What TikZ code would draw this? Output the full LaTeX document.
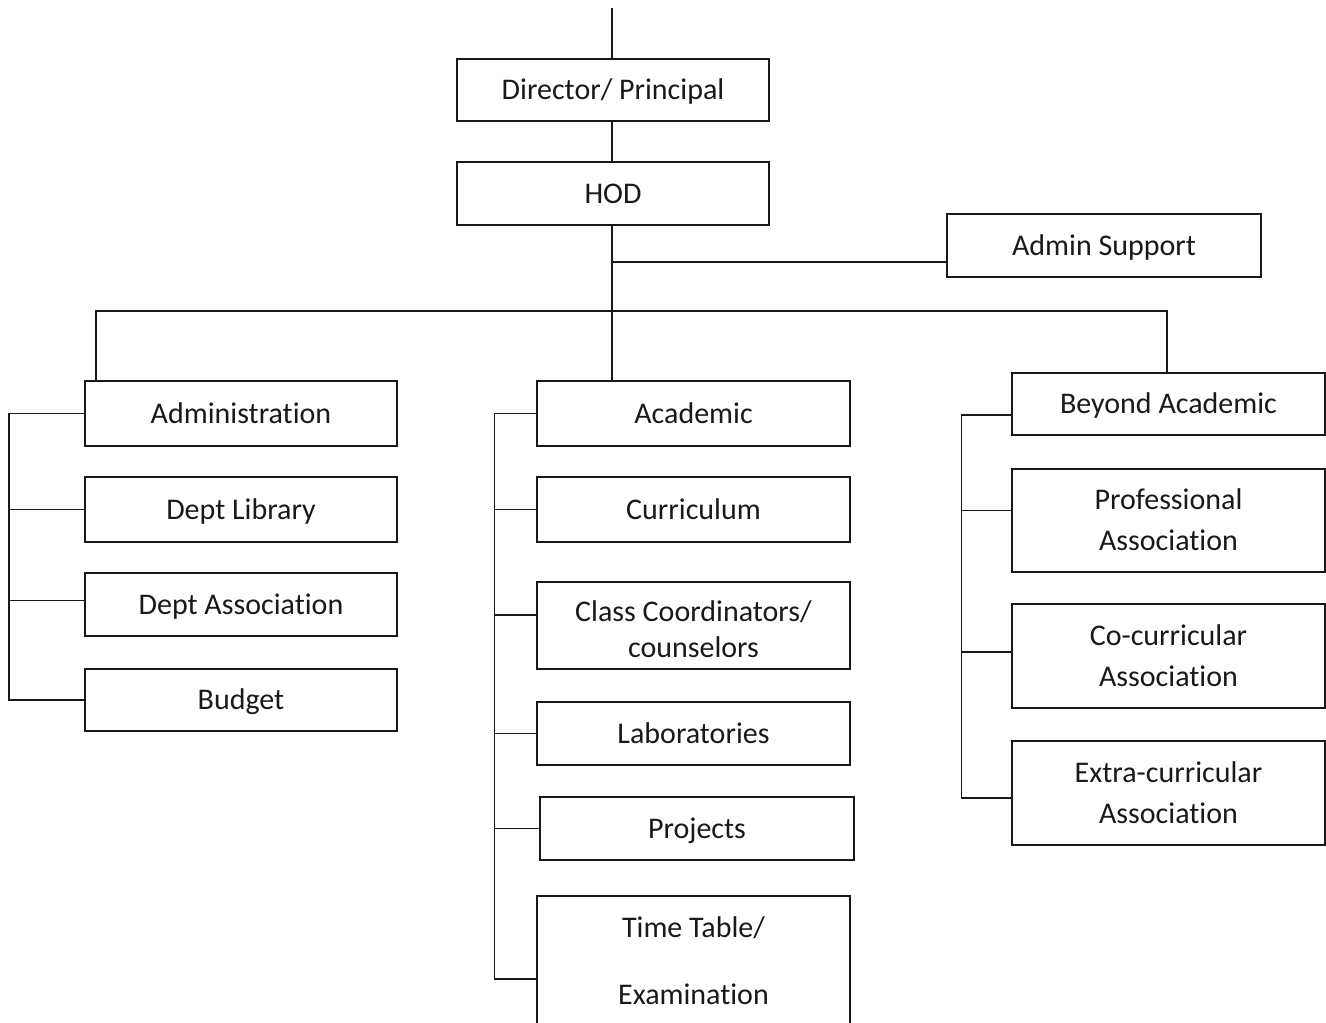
\documentclass[tikz,border=0pt]{standalone}
\usepackage{fontspec}
\setmainfont{Carlito}[Ligatures={NoCommon}]
\usetikzlibrary{calc}
\newcommand{\sT}[1][15.5pt]{\rule{0pt}{#1}}
\newcommand{\sB}{\rule[-1pt]{0pt}{1pt}}
\tikzset{
  boxbase/.style={draw=black!90, line width=1.4pt, inner sep=0pt, align=center,
    text=black!90},
  box/.style={boxbase, font=\fontsize{22.5}{30.75}\selectfont,
    text height=15.5pt, text depth=1pt},
  mbox/.style={boxbase, font=\fontsize{22.5}{30.75}\selectfont},
  conn/.style={draw=black!90, line width=1.4pt},
}
\newcommand{\bx}[7]{% name, cx, cy, w, h, style, text
  \node[#6, minimum width={#4*0.75pt}, minimum height={#5*0.75pt}] (#1) at (#2,#3) {#7};}
\begin{document}
\begin{tikzpicture}[x=0.75pt,y=-0.75pt]
\useasboundingbox (0,0) rectangle (1326,1023);
\clip (0,0) rectangle (1326,1023);
% top
\bx{dir}{613}{90}{312}{62}{box}{Director/ Principal}
\bx{hod}{613}{193.5}{312}{63}{box}{HOD}
\bx{admsup}{1104}{245.5}{314}{63}{box}{Admin Support}
% left
\bx{admin}{241}{413.5}{312}{65}{box}{Administration}
\bx{lib}{241}{509.5}{312}{65}{box}{Dept Library}
\bx{dassoc}{241}{604.5}{312}{63}{box}{Dept Association}
\bx{budget}{241}{700}{312}{62}{box}{Budget}
% middle
\bx{acad}{693.5}{413.5}{313}{65}{box}{Academic}
\bx{curr}{693.5}{509.5}{313}{65}{box}{Curriculum}
\bx{cc}{693.5}{625.5}{313}{87}{mbox,font=\fontsize{22.5}{27}\selectfont}{\sT[22.25pt]Class Coordinators/\\counselors\sB}
\bx{labs}{693.5}{733.5}{313}{63}{box}{Laboratories}
\bx{proj}{697}{828.5}{314}{63}{box}{Projects}
\bx{tt}{693.5}{961.5}{313}{131}{mbox,font=\fontsize{22.5}{50.25}\selectfont}{\sT Time Table/\\Examination\sB}
% right
\bx{beyond}{1168.5}{404}{313}{62}{box}{Beyond Academic}
\bx{prof}{1168.5}{520.5}{313}{103}{mbox}{\sT Professional\\Association\sB}
\bx{cocur}{1168.5}{656}{313}{104}{mbox}{\sT Co-curricular\\Association\sB}
\bx{extra}{1168.5}{793}{313}{104}{mbox}{\sT Extra-curricular\\Association\sB}
% connectors
\coordinate (top) at (612,8);
\draw[conn] (top) -- (top |- dir.north);
\draw[conn] (dir.south -| top) -- (hod.north -| top);
\draw[conn] (hod.south -| top) -- (acad.north -| top);
\coordinate (asj) at (612,262);
\draw[conn] (asj) -- (asj -| admsup.west);
\coordinate (busL) at (96,311);
\coordinate (busR) at (1167,311);
\draw[conn] (busL |- admin.north) -- (busL) -- (busR) -- (busR |- beyond.north);
% left tree
\coordinate (lv) at (9,414);
\draw[conn] (admin.west) -- (admin.west -| lv) |- (budget.west);
\draw[conn] (lib.west) -- (lib.west -| lv);
\draw[conn] ($(dassoc.west)+(0,-4)$) -- ($(dassoc.west -| lv)+(0,-4)$);
% middle tree
\coordinate (mv) at (494.5,414);
\coordinate (ttj) at ($(tt.west)+(0,17.5)$);
\draw[conn] (acad.west) -- (acad.west -| mv) |- (ttj);
\draw[conn] (curr.west) -- (curr.west -| mv);
\draw[conn] ($(cc.west)+(0,-10.5)$) -- ($(cc.west -| mv)+(0,-10.5)$);
\draw[conn] (labs.west) -- (labs.west -| mv);
\draw[conn] (proj.west) -- (proj.west -| mv);
% right tree
\coordinate (rv) at (961.5,414);
\coordinate (bj) at ($(beyond.west)+(0,11)$);
\coordinate (ej) at ($(extra.west)+(0,5)$);
\draw[conn] (bj) -- (bj -| rv) |- (ej);
\draw[conn] ($(prof.west)+(0,-10)$) -- ($(prof.west -| rv)+(0,-10)$);
\draw[conn] ($(cocur.west)+(0,-4)$) -- ($(cocur.west -| rv)+(0,-4)$);
\end{tikzpicture}
\end{document}
